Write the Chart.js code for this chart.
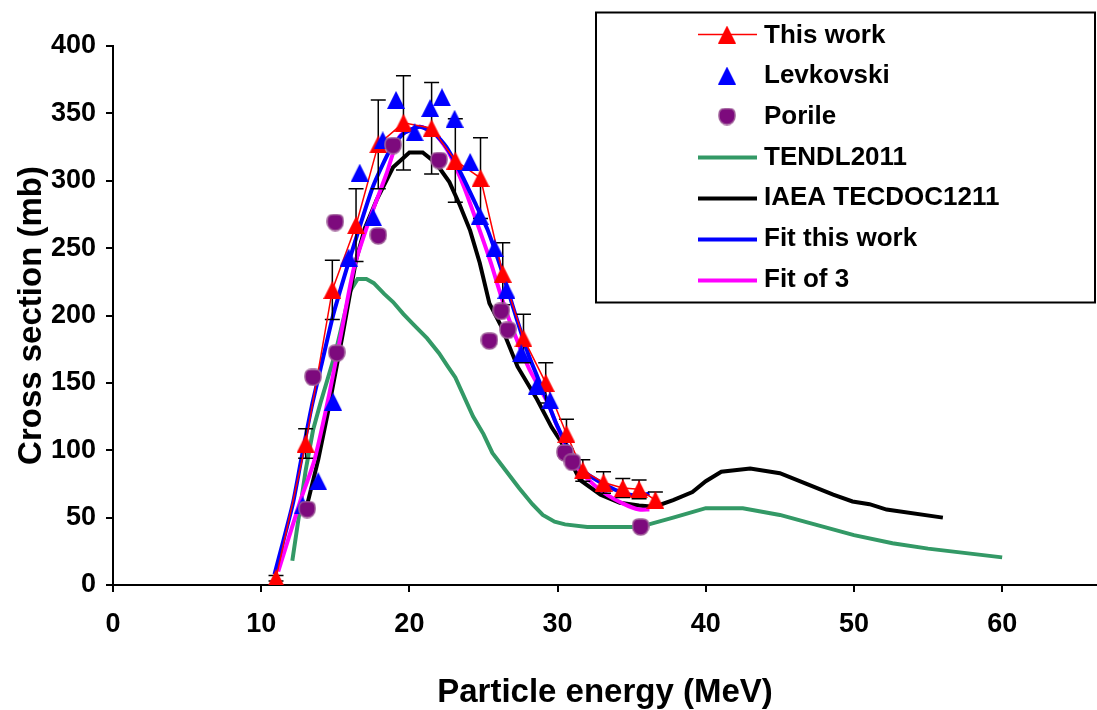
<!DOCTYPE html>
<html>
<head>
<meta charset="utf-8">
<script src="https://cdn.jsdelivr.net/npm/chart.js@4.4.1/dist/chart.umd.min.js"></script>
<style>
  html, body { margin: 0; padding: 0; background: #fff; }
  #wrap { width: 1097px; height: 710px; position: relative; }
</style>
</head>
<body>
<div id="wrap"><canvas id="c" width="1097" height="710"></canvas></div>
<script>
// Measured cross sections (This work) with uncertainties
const thisWorkEnergy = [11.0, 13.0, 14.8, 16.4, 17.9, 19.6, 21.5, 23.1, 24.8, 26.3, 27.7, 29.2, 30.6, 31.7, 33.1, 34.4, 35.5, 36.6];
const thisWorkXS     = [5, 105, 219, 267, 327, 343, 339, 315, 302, 231, 183, 150, 112, 85, 76, 72, 71, 63];
const thisWorkErr    = [2, 11, 22, 27, 33, 35, 34, 31, 30, 23, 18, 15, 11, 8, 8, 7, 7, 6];

// Literature data
const levkovskiEnergy = [12.8, 13.85, 14.85, 15.9, 16.65, 17.55, 18.2, 19.1, 20.35, 21.4, 22.2, 23.05, 24.1, 24.75, 25.75, 26.55, 27.55, 28.6, 29.5];
const levkovskiXS     = [59, 77, 136, 243, 306, 273, 330, 360, 336, 354, 362, 346, 314, 274, 250, 219, 172, 148, 137];

const porileEnergy = [13.1, 13.5, 15.0, 15.1, 17.9, 18.9, 22.0, 25.4, 26.2, 26.65, 30.5, 31.0, 35.6];
const porileXS     = [56, 154, 269, 172, 259, 326, 315, 181, 203, 189, 98, 91, 43];

// Evaluated / theoretical excitation functions
const tendlEnergy = [12.1, 13.0, 13.5, 14.0, 15.0, 16.0, 16.5, 17.1, 17.6, 18.3, 18.9, 19.6, 20.3, 21.2, 22.0, 22.6, 23.1, 24.3, 25.0, 25.6, 26.5, 27.4, 28.3, 29.0, 29.8, 30.5, 32.0, 35.5, 37.8, 40.0, 42.5, 45.0, 50.0, 52.6, 55.0, 60.0];
const tendlXS     = [18, 85, 115, 135, 172, 218, 227, 227, 224, 216, 210, 201, 193, 183, 172, 162, 154, 125, 112, 98, 85, 72, 60, 52, 47, 45, 43, 43, 50, 57, 57, 52, 37, 31, 27, 20.5];

const iaeaEnergy = [13.0, 13.85, 14.5, 15.5, 16.4, 17.0, 17.8, 18.9, 20.0, 20.9, 21.8, 22.7, 23.4, 24.1, 24.75, 25.4, 26.2, 27.3, 28.6, 29.6, 30.2, 31.5, 32.9, 34.2, 35.5, 36.5, 37.8, 39.1, 40.0, 41.05, 43.0, 45.0, 46.8, 48.6, 49.9, 51.05, 52.2, 56.0];
const iaeaXS     = [55, 93, 128, 186, 241, 265, 286, 310, 321, 321, 313, 299, 282, 263, 239, 209, 192, 162, 138, 117, 107, 78, 67, 61, 59, 58, 63, 69, 77, 84, 86.5, 83, 75, 67, 62, 60, 56, 50];

// Fitted curves
const fitWorkEnergy = [10.9, 11.5, 12.15, 12.7, 13.4, 14.1, 14.85, 15.75, 16.65, 17.55, 18.7, 19.6, 20.7, 21.7, 22.5, 23.5, 24.5, 25.3, 26.3, 27.2, 28.1, 29.0, 29.9, 30.8, 31.7, 33.1, 34.5, 35.5, 36.2];
const fitWorkXS     = [8, 33, 61, 93, 132, 165, 200, 234, 266, 296, 323, 335, 340, 335, 325, 305, 282, 263, 231, 199, 169, 145, 120, 100, 85, 75, 68, 66, 68];

const fit3Energy = [11.15, 12.6, 13.6, 14.6, 15.4, 16.25, 17.3, 18.45, 19.35, 20.7, 21.8, 22.7, 23.7, 24.75, 25.5, 26.2, 27.0, 28.1, 29.35, 30.0, 31.0, 32.0, 33.2, 34.5, 35.5, 36.2];
const fit3XS     = [10, 61, 93, 142, 187, 235, 271, 305, 333, 340, 334, 320, 295, 263, 239, 214, 189, 160, 135, 117, 92, 79, 68, 60, 56, 56];

// Axis tick values
const energyTicks = [0, 10, 20, 30, 40, 50, 60];
const xsTicks = [0, 50, 100, 150, 200, 250, 300, 350, 400];

const FONT = "'Liberation Sans', Arial, Helvetica, sans-serif";

function pts(xs, ys) { return xs.map((x, i) => ({ x: x, y: ys[i] })); }

function triangleMarker(color, w, h) {
  const c = document.createElement('canvas');
  c.width = w; c.height = h;
  const g = c.getContext('2d');
  g.fillStyle = color;
  g.beginPath();
  g.moveTo(w / 2, 0);
  g.lineTo(w, h);
  g.lineTo(0, h);
  g.closePath();
  g.fill();
  return c;
}

function shieldMarker(fill, edge, s) {
  const c = document.createElement('canvas');
  c.width = s; c.height = s;
  const g = c.getContext('2d');
  const p = 1, r = 6, R = (s - 2 * p) / 2;
  g.beginPath();
  g.moveTo(p + r, p);
  g.lineTo(s - p - r, p);
  g.quadraticCurveTo(s - p, p, s - p, p + r);
  g.lineTo(s - p, s / 2);
  g.arc(s / 2, s / 2, R, 0, Math.PI);
  g.lineTo(p, p + r);
  g.quadraticCurveTo(p, p, p + r, p);
  g.closePath();
  g.fillStyle = fill;
  g.fill();
  g.lineWidth = 1.5;
  g.strokeStyle = edge;
  g.stroke();
  return c;
}

const redTri = triangleMarker('#ff0000', 18, 18);
const blueTri = triangleMarker('#0000ff', 18, 18);
const porileDot = shieldMarker('#7d0a7d', '#a0609a', 18);

// Vertical error bars on the measured points, drawn just beneath their markers
const errorBars = {
  id: 'errorBars',
  beforeDatasetDraw(chart, args) {
    if (args.index !== 0) return;
    const { ctx, scales: { x, y } } = chart;
    ctx.save();
    ctx.strokeStyle = '#000';
    ctx.lineWidth = 1.5;
    thisWorkEnergy.forEach((e, i) => {
      const px = x.getPixelForValue(e);
      const top = y.getPixelForValue(thisWorkXS[i] + thisWorkErr[i]);
      const bot = y.getPixelForValue(thisWorkXS[i] - thisWorkErr[i]);
      ctx.beginPath();
      ctx.moveTo(px, top); ctx.lineTo(px, bot);
      ctx.moveTo(px - 7.5, top); ctx.lineTo(px + 7.5, top);
      ctx.moveTo(px - 7.5, bot); ctx.lineTo(px + 7.5, bot);
      ctx.stroke();
    });
    ctx.restore();
  }
};

// Framed legend in the upper right
const boxLegend = {
  id: 'boxLegend',
  afterDraw(chart) {
    const ctx = chart.ctx;
    ctx.save();
    ctx.fillStyle = '#fff';
    ctx.fillRect(596, 12.5, 499, 290);
    ctx.strokeStyle = '#000';
    ctx.lineWidth = 2;
    ctx.strokeRect(596, 12.5, 499, 290);
    ctx.font = 'bold 26px ' + FONT;
    ctx.fillStyle = '#000';
    ctx.textBaseline = 'alphabetic';
    ctx.textAlign = 'left';
    chart.data.datasets.forEach((ds, i) => {
      const cy = 34.5 + i * 41;
      if (ds.showLine) {
        ctx.strokeStyle = ds.borderColor;
        ctx.lineWidth = ds.borderWidth;
        ctx.beginPath();
        ctx.moveTo(698, cy);
        ctx.lineTo(757, cy);
        ctx.stroke();
      }
      if (ds.pointStyle && typeof ds.pointStyle === 'object') {
        const m = ds.pointStyle;
        ctx.drawImage(m, 727 - m.width / 2, cy - m.height / 2);
      }
      ctx.fillText(ds.label, 764, 42.5 + i * 40.7);
    });
    ctx.restore();
  }
};

const tickFont = { family: FONT, size: 27, weight: 'bold' };
const titleFont = { family: FONT, size: 33, weight: 'bold' };

new Chart(document.getElementById('c'), {
  type: 'scatter',
  data: {
    datasets: [
      {
        label: 'This work', data: pts(thisWorkEnergy, thisWorkXS), showLine: true,
        borderColor: '#ff0000', borderWidth: 1.5, tension: 0,
        pointStyle: redTri, pointRadius: 9, order: 3
      },
      {
        label: 'Levkovski', data: pts(levkovskiEnergy, levkovskiXS), showLine: false,
        pointStyle: blueTri, pointRadius: 9, order: 2
      },
      {
        label: 'Porile', data: pts(porileEnergy, porileXS), showLine: false,
        pointStyle: porileDot, pointRadius: 9, order: 1
      },
      {
        label: 'TENDL2011', data: pts(tendlEnergy, tendlXS), showLine: true,
        borderColor: '#339966', borderWidth: 4, pointRadius: 0, tension: 0, order: 7
      },
      {
        label: 'IAEA TECDOC1211', data: pts(iaeaEnergy, iaeaXS), showLine: true,
        borderColor: '#000000', borderWidth: 4, pointRadius: 0, tension: 0, order: 6
      },
      {
        label: 'Fit this work', data: pts(fitWorkEnergy, fitWorkXS), showLine: true,
        borderColor: '#0000ff', borderWidth: 4, pointRadius: 0, tension: 0.2, order: 4
      },
      {
        label: 'Fit of 3', data: pts(fit3Energy, fit3XS), showLine: true,
        borderColor: '#ff00ff', borderWidth: 4, pointRadius: 0, tension: 0.2, order: 5
      }
    ]
  },
  options: {
    responsive: false,
    animation: false,
    events: [],
    layout: { autoPadding: false, padding: { top: 46, right: 0, bottom: 0, left: 0 } },
    plugins: { legend: { display: false }, tooltip: { enabled: false } },
    scales: {
      x: {
        type: 'linear', min: 0, max: 66.4,
        afterBuildTicks: s => { s.ticks = energyTicks.map(v => ({ value: v })); },
        afterFit: s => { s.height = 125; s.paddingLeft = 0; s.paddingRight = 0; },
        grid: { drawOnChartArea: false, color: '#000', lineWidth: 2, tickLength: 7 },
        border: { color: '#000', width: 2 },
        ticks: { color: '#000', font: tickFont, padding: 16, maxRotation: 0, autoSkip: false },
        title: { display: true, text: 'Particle energy (MeV)', color: '#000', font: titleFont, padding: { top: 0, bottom: -3 } }
      },
      y: {
        type: 'linear', min: 0, max: 400,
        afterBuildTicks: s => { s.ticks = xsTicks.map(v => ({ value: v })); },
        afterFit: s => { s.width = 113; },
        grid: { drawOnChartArea: false, color: '#000', lineWidth: 2, tickLength: 7 },
        border: { color: '#000', width: 2 },
        ticks: { color: '#000', font: tickFont, padding: 10, autoSkip: false },
        title: { display: true, text: 'Cross section (mb)', color: '#000', font: titleFont, padding: { top: 12, bottom: 0 } }
      }
    }
  },
  plugins: [errorBars, boxLegend]
});
</script>
</body>
</html>
